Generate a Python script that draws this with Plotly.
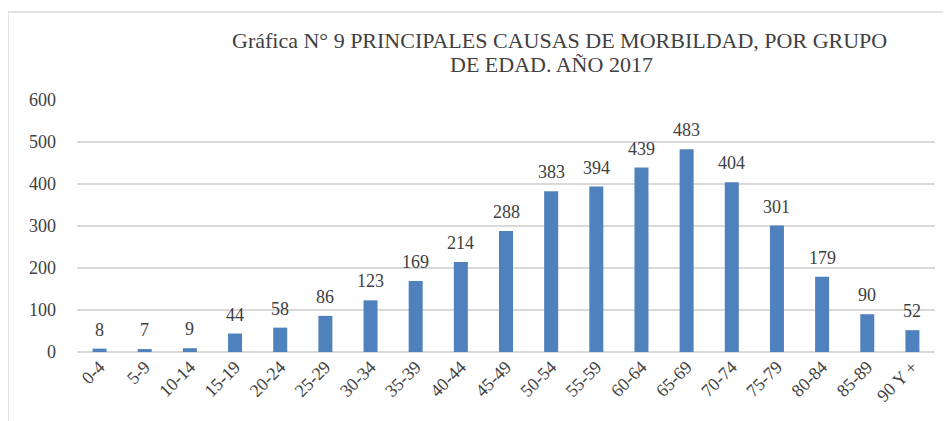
import plotly.graph_objects as go

categories = ["0-4", "5-9", "10-14", "15-19", "20-24", "25-29", "30-34", "35-39",
              "40-44", "45-49", "50-54", "55-59", "60-64", "65-69", "70-74",
              "75-79", "80-84", "85-89", "90 Y +"]
values = [8, 7, 9, 44, 58, 86, 123, 169, 214, 288, 383, 394, 439, 483, 404,
          301, 179, 90, 52]
title_lines = ["Gráfica N° 9 PRINCIPALES CAUSAS DE MORBILDAD, POR GRUPO",
               "DE EDAD. AÑO 2017"]

FONT = "Liberation Serif, Times New Roman, serif"
TXT = "#404040"

# page body has an 8px margin: figure pixel = reference pixel - 8
OFF = 8
W, H = 951 - OFF, 421 - OFF
L, R, T, B = 77 - OFF, 16, 100 - OFF, 69
pw, ph = W - L - R, H - T - B

def px_x(p):
    return (p - OFF - L) / pw

def px_y(p):
    return (H - B - (p - OFF)) / ph

fig = go.Figure(go.Bar(
    x=categories, y=values,
    marker=dict(color="#4F81BD", line=dict(width=0)),
    width=0.31,
    hoverinfo="x+y",
))

annotations = [
    dict(x=c, y=v, xref="x", yref="y", text=str(v), showarrow=False,
         xanchor="center", yanchor="bottom", yshift=7,
         font=dict(family=FONT, size=18, color=TXT))
    for c, v in zip(categories, values)
]
for txt, cx, cy in zip(title_lines, [559, 551], [41, 64]):
    annotations.append(dict(x=px_x(cx), y=px_y(cy), xref="paper", yref="paper",
                            text=txt, showarrow=False, xanchor="center",
                            yanchor="middle",
                            font=dict(family=FONT, size=22, color=TXT)))

fig.update_layout(
    width=W, height=H,
    margin=dict(l=L, r=R, t=T, b=B, autoexpand=False),
    paper_bgcolor="white", plot_bgcolor="white",
    showlegend=False,
    font=dict(family=FONT, color=TXT),
    annotations=annotations,
    xaxis=dict(tickangle=-45, tickfont=dict(family=FONT, size=18, color=TXT),
               showgrid=False, showline=False, ticks="", range=[-0.5, 18.5],
               automargin=False),
    yaxis=dict(range=[0, 600], dtick=100, tickfont=dict(family=FONT, size=18, color=TXT),
               showgrid=True, gridcolor="#D9D9D9", gridwidth=1.5,
               zeroline=True, zerolinecolor="#D9D9D9", zerolinewidth=1.5,
               showline=False, ticks="", ticklabelstandoff=20, automargin=False),
    shapes=[
        dict(type="line", xref="paper", yref="paper",
             x0=px_x(5), x1=px_x(951), y0=px_y(12), y1=px_y(12),
             line=dict(color="#D9D9D9", width=1.5)),
        dict(type="line", xref="paper", yref="paper",
             x0=px_x(8), x1=px_x(8), y0=px_y(12), y1=px_y(421),
             line=dict(color="#D9D9D9", width=1.5)),
    ],
)

fig.write_html("out.html")
